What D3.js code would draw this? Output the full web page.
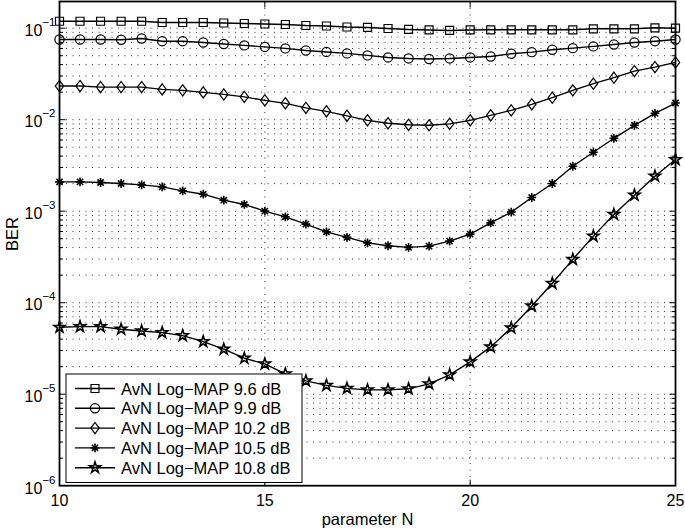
<!DOCTYPE html>
<html><head><meta charset="utf-8">
<script src="https://cdn.jsdelivr.net/npm/d3@7"></script>
<style>
body{margin:0;background:#fff}
svg{display:block}
text{font-family:"Liberation Sans",Arial,Helvetica,sans-serif;fill:#000}
</style>
</head><body>
<svg id="c" width="685" height="528"></svg>
<script>
// ---- data ----
const paramN = [10,10.5,11,11.5,12,12.5,13,13.5,14,14.5,15,15.5,16,16.5,17,17.5,18,18.5,19,19.5,20,20.5,21,21.5,22,22.5,23,23.5,24,24.5,25];
const ber96 = [0.119,0.119,0.119,0.119,0.119,0.1154,0.1154,0.1154,0.1139,0.1125,0.1111,0.1097,0.1070,0.1057,0.1030,0.1018,0.0992,0.0968,0.0956,0.0944,0.0956,0.0960,0.0960,0.0960,0.0960,0.0960,0.0985,0.0985,0.0985,0.1010,0.1000];
const ber99 = [0.0753,0.0753,0.0753,0.0747,0.0772,0.0721,0.0721,0.0698,0.0672,0.0648,0.0624,0.0601,0.0571,0.0550,0.0530,0.0504,0.0479,0.0467,0.0461,0.0467,0.0479,0.0491,0.0526,0.0547,0.0581,0.0605,0.0632,0.0664,0.0698,0.0721,0.0753];
const ber102 = [0.0233,0.0233,0.0227,0.0227,0.0227,0.02144,0.02091,0.01988,0.0189,0.01777,0.01627,0.01509,0.01347,0.01234,0.01102,0.00984,0.00913,0.00879,0.00869,0.00901,0.00984,0.01116,0.01265,0.01471,0.01741,0.02091,0.02474,0.02876,0.03397,0.03755,0.04224];
const ber105 = [0.00209,0.00209,0.002058,0.002007,0.001938,0.001843,0.001667,0.001534,0.001319,0.001185,0.001001,0.000868,0.000722,0.000595,0.000517,0.000451,0.000419,0.000402,0.000415,0.000471,0.000562,0.000746,0.000976,0.001412,0.002007,0.003098,0.004405,0.006262,0.008686,0.01174,0.0152];
const ber108 = [5.39e-5,5.47e-5,5.47e-5,5.13e-5,4.91e-5,4.71e-5,4.37e-5,3.755e-5,3.102e-5,2.474e-5,2.145e-5,1.669e-5,1.40e-5,1.25e-5,1.159e-5,1.116e-5,1.116e-5,1.145e-5,1.298e-5,1.628e-5,2.255e-5,3.287e-5,5.30e-5,9.21e-5,1.628e-4,2.975e-4,5.34e-4,9.21e-4,1.496e-3,2.411e-3,3.666e-3];
const seriesLabels = ["AvN Log\u2212MAP 9.6 dB","AvN Log\u2212MAP 9.9 dB","AvN Log\u2212MAP 10.2 dB","AvN Log\u2212MAP 10.5 dB","AvN Log\u2212MAP 10.8 dB"];
const xTicks = [10,15,20,25];
const yTickExps = [-6,-5,-4,-3,-2,-1];
const xLabel = "parameter N";
const yLabel = "BER";

// ---- layout ----
const L=59.5, R=675.5, T=1.5, B=485.7;
const svg = d3.select("#c");
const x = d3.scaleLinear().domain([10,25]).range([L,R]);
const y = d3.scaleLog().domain([1e-6,0.1957]).range([B,T]);

const minorVals=[], majorVals=[];
yTickExps.forEach(e=>{
  majorVals.push(Math.pow(10,e));
  if(e<-1) for(let k=2;k<=9;k++) minorVals.push(k*Math.pow(10,e));
});
const gridVals = majorVals.concat(minorVals).filter(v=>v>1e-6 && v<0.1957);

const g = svg.append("g");
g.selectAll("line.hg").data(gridVals).join("line")
  .attr("x1",L).attr("x2",R).attr("y1",d=>y(d)).attr("y2",d=>y(d))
  .attr("stroke","#333").attr("stroke-width",1).attr("stroke-dasharray","1,5.5");
g.selectAll("line.vg").data(xTicks.filter(t=>t>10&&t<25)).join("line")
  .attr("x1",d=>x(d)).attr("x2",d=>x(d)).attr("y1",T).attr("y2",B)
  .attr("stroke","#333").attr("stroke-width",1).attr("stroke-dasharray","1,5.5");

// ticks
const tk = svg.append("g").attr("stroke","#000").attr("stroke-width",1);
gridVals.forEach(v=>{
  const len = majorVals.includes(v)?6:3.5;
  tk.append("line").attr("x1",L).attr("x2",L+len).attr("y1",y(v)).attr("y2",y(v));
  tk.append("line").attr("x1",R).attr("x2",R-len).attr("y1",y(v)).attr("y2",y(v));
});
xTicks.filter(t=>t>10&&t<25).forEach(t=>{
  tk.append("line").attr("x1",x(t)).attr("x2",x(t)).attr("y1",B).attr("y2",B-6);
  tk.append("line").attr("x1",x(t)).attr("x2",x(t)).attr("y1",T).attr("y2",T+6);
});

// tick labels
svg.selectAll("text.xt").data(xTicks).join("text")
  .attr("x",d=>x(d)).attr("y",B+20).attr("text-anchor","middle")
  .attr("font-size",16).text(d=>d);
yTickExps.forEach(e=>{
  const t = svg.append("text").attr("x",55.5).attr("y",y(Math.pow(10,e))+7.8)
    .attr("text-anchor","end").attr("font-size",16);
  t.append("tspan").text("10");
  t.append("tspan").attr("dy",-10).attr("font-size",11.5).text("\u2212"+Math.abs(e));
});

// axis labels
svg.append("text").attr("x",(L+R)/2).attr("y",524.5).attr("text-anchor","middle")
  .attr("font-size",16.5).text(xLabel);
svg.append("text").attr("transform","translate(17.5,234) rotate(-90)")
  .attr("text-anchor","middle").attr("font-size",16.5).text(yLabel);

// markers
function asterisk(r){
  const a=r*0.7071;
  return `M${-r},0L${r},0M0,${-r}L0,${r}M${-a},${-a}L${a},${a}M${-a},${a}L${a},${-a}`;
}
function diamond(w,h){return `M0,${-h}L${w},0L0,${h}L${-w},0Z`;}
const markerPaths = [
  d3.symbol(d3.symbolSquare,64)(),
  d3.symbol(d3.symbolCircle,Math.PI*4.6*4.6)(),
  diamond(4.2,5.6),
  asterisk(4.4),
  d3.symbol(d3.symbolStar,38)()
];
const markerStroke = [1.2,1.2,1.2,1.6,1.6];
const allSeries = [ber96,ber99,ber102,ber105,ber108];

const line = d3.line().x((d,i)=>x(paramN[i])).y(d=>y(d));
allSeries.forEach((s,si)=>{
  const sg = svg.append("g");
  sg.append("path").attr("d",line(s)).attr("fill","none").attr("stroke","#000").attr("stroke-width",1.4);
  sg.selectAll("path.m").data(s).join("path").attr("class","m")
    .attr("transform",(d,i)=>`translate(${x(paramN[i])},${y(d)})`)
    .attr("d",markerPaths[si]).attr("fill","none").attr("stroke","#000").attr("stroke-width",markerStroke[si]);
});

// axes box
svg.append("rect").attr("x",L).attr("y",T).attr("width",R-L).attr("height",B-T)
  .attr("fill","none").attr("stroke","#000").attr("stroke-width",1.8);

// legend
const lg = svg.append("g");
lg.append("rect").attr("x",66).attr("y",374).attr("width",236).attr("height",108.5)
  .attr("fill","#fff").attr("stroke","#000").attr("stroke-width",1);
seriesLabels.forEach((lab,i)=>{
  const cy = 388.5 + i*19.8;
  lg.append("line").attr("x1",75).attr("x2",115).attr("y1",cy).attr("y2",cy)
    .attr("stroke","#000").attr("stroke-width",1.4);
  lg.append("path").attr("transform",`translate(95,${cy})`).attr("d",markerPaths[i])
    .attr("fill","none").attr("stroke","#000").attr("stroke-width",markerStroke[i]);
  lg.append("text").attr("x",121).attr("y",cy+6).attr("font-size",16.5).text(lab);
});
</script>
</body></html>
